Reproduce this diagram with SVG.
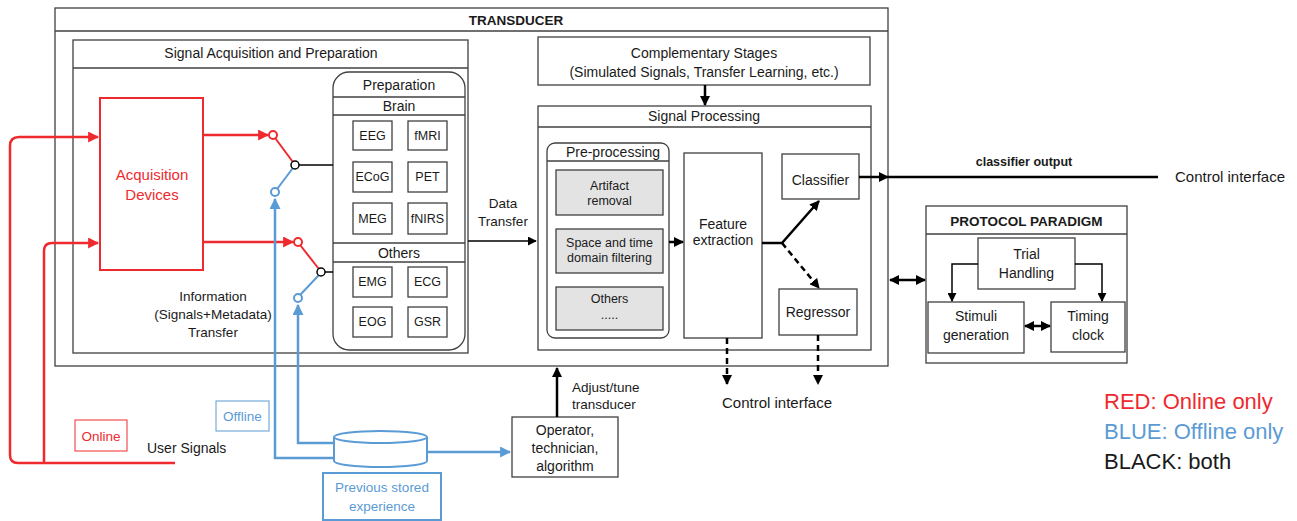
<svg xmlns="http://www.w3.org/2000/svg" width="1297" height="521" viewBox="0 0 1297 521">
<style>
text{font-family:"Liberation Sans",Arial,sans-serif;fill:#1a1a1a;}
.c{text-anchor:middle;}
.box{fill:#fff;stroke:#404040;stroke-width:1.3;}
.gbox{fill:#e3e3e3;stroke:#404040;stroke-width:1.3;}
.ln{stroke:#404040;stroke-width:1.3;fill:none;}
.blk{stroke:#000;stroke-width:2.5;fill:none;}
.thin{stroke:#000;stroke-width:1.5;fill:none;}
.dash{stroke:#000;stroke-width:2.5;fill:none;stroke-dasharray:6 4;}
.red{stroke:#ee2a2f;stroke-width:2.5;fill:none;}
.blue{stroke:#5b9bd5;stroke-width:2.5;fill:none;}
.t12{font-size:12.5px;}
.t13{font-size:13.5px;}
.t14{font-size:14px;}
.t15{font-size:15px;}
.b{font-weight:bold;}
.rt{fill:#ee2a2f;}
.bt{fill:#5b9bd5;}
</style>
<defs>
<marker id="ak" viewBox="0 0 10 10" refX="9" refY="5" markerWidth="4" markerHeight="4" orient="auto-start-reverse" markerUnits="strokeWidth"><path d="M0,0 L10,5 L0,10 z" fill="#000"/></marker>
<marker id="akt" viewBox="0 0 10 10" refX="9" refY="5" markerWidth="6" markerHeight="6" orient="auto-start-reverse" markerUnits="strokeWidth"><path d="M0,0 L10,5 L0,10 z" fill="#000"/></marker>
<marker id="ar" viewBox="0 0 10 10" refX="9" refY="5" markerWidth="4.4" markerHeight="4.4" orient="auto" markerUnits="strokeWidth"><path d="M0,0 L10,5 L0,10 z" fill="#ee2a2f"/></marker>
<marker id="ab" viewBox="0 0 10 10" refX="9" refY="5" markerWidth="4.4" markerHeight="4.4" orient="auto" markerUnits="strokeWidth"><path d="M0,0 L10,5 L0,10 z" fill="#5b9bd5"/></marker>
</defs>

<g id="transducer">
<rect class="box" x="55" y="8" width="833" height="358"/>
<line class="ln" x1="55" y1="31" x2="888" y2="31"/>
<text class="c t13 b" x="516" y="25">TRANSDUCER</text>
</g>

<g id="signal-acquisition">
<rect class="box" x="73" y="40" width="395" height="313"/>
<line class="ln" x1="73" y1="68" x2="468" y2="68"/>
<text class="c t14" x="271" y="58">Signal Acquisition and Preparation</text>
<text class="c t13" x="213" y="301">Information</text>
<text class="c t13" x="213" y="319">(Signals+Metadata)</text>
<text class="c t13" x="213" y="337">Transfer</text>
</g>

<g id="acquisition-devices">
<rect x="100" y="98" width="103" height="172" fill="#fff" stroke="#ee2a2f" stroke-width="2"/>
<text class="c t15 rt" x="152" y="180">Acquisition</text>
<text class="c t15 rt" x="152" y="200">Devices</text>
</g>

<g id="preparation">
<rect class="box" x="333" y="72" width="132" height="278" rx="16"/>
<line class="ln" x1="333" y1="97" x2="465" y2="97"/>
<line class="ln" x1="333" y1="115" x2="465" y2="115"/>
<line class="ln" x1="333" y1="243" x2="465" y2="243"/>
<line class="ln" x1="333" y1="262" x2="465" y2="262"/>
<text class="c t14" x="399" y="90">Preparation</text>
<text class="c t14" x="399" y="111">Brain</text>
<text class="c t14" x="399" y="258">Others</text>
<rect class="box" x="353" y="121" width="39" height="29"/><text class="c t12" x="372.5" y="140">EEG</text>
<rect class="box" x="408" y="121" width="39" height="29"/><text class="c t12" x="427.5" y="140">fMRI</text>
<rect class="box" x="353" y="162" width="39" height="30"/><text class="c t12" x="372.5" y="181">ECoG</text>
<rect class="box" x="408" y="162" width="39" height="30"/><text class="c t12" x="427.5" y="181">PET</text>
<rect class="box" x="353" y="203" width="39" height="31"/><text class="c t12" x="372.5" y="223">MEG</text>
<rect class="box" x="408" y="203" width="39" height="31"/><text class="c t12" x="427.5" y="223">fNIRS</text>
<rect class="box" x="353" y="267" width="39" height="30"/><text class="c t12" x="372.5" y="286">EMG</text>
<rect class="box" x="408" y="267" width="39" height="30"/><text class="c t12" x="427.5" y="286">ECG</text>
<rect class="box" x="353" y="307" width="39" height="30"/><text class="c t12" x="372.5" y="326">EOG</text>
<rect class="box" x="408" y="307" width="39" height="30"/><text class="c t12" x="427.5" y="326">GSR</text>
</g>

<g id="data-transfer-label">
<text class="c t13" x="503" y="208">Data</text>
<text class="c t13" x="503" y="226">Transfer</text>
</g>

<g id="complementary">
<rect class="box" x="538" y="37" width="332" height="48"/>
<text class="c t14" x="704" y="58">Complementary Stages</text>
<text class="c t14" x="704" y="77">(Simulated Signals, Transfer Learning, etc.)</text>
</g>

<g id="signal-processing">
<rect class="box" x="538" y="106" width="333" height="244"/>
<line class="ln" x1="538" y1="127" x2="871" y2="127"/>
<text class="c t14" x="704" y="121">Signal Processing</text>
</g>

<g id="pre-processing">
<rect class="box" x="547" y="143" width="122" height="195" rx="8"/>
<line class="ln" x1="547" y1="161" x2="669" y2="161"/>
<text class="c t14" x="613" y="157">Pre-processing</text>
<rect class="gbox" x="556" y="170" width="107" height="45"/>
<text class="c t12" x="609.5" y="190">Artifact</text>
<text class="c t12" x="609.5" y="205">removal</text>
<rect class="gbox" x="556" y="229" width="107" height="44"/>
<text class="c t12" x="609.5" y="247">Space and time</text>
<text class="c t12" x="609.5" y="262">domain filtering</text>
<rect class="gbox" x="556" y="287" width="107" height="43"/>
<text class="c t12" x="609.5" y="303">Others</text>
<text class="c t12" x="609.5" y="319">.....</text>
</g>

<g id="feature-extraction">
<rect class="box" x="684" y="153" width="78" height="185"/>
<text class="c t14" x="723" y="229">Feature</text>
<text class="c t14" x="723" y="245">extraction</text>
</g>

<g id="classifier">
<rect class="box" x="782" y="154" width="77" height="45"/>
<text class="c t14" x="820.5" y="185">Classifier</text>
</g>

<g id="regressor">
<rect class="box" x="779" y="289" width="78" height="46"/>
<text class="c t14" x="818" y="317">Regressor</text>
</g>

<g id="protocol-paradigm">
<rect class="box" x="926" y="206" width="201" height="157"/>
<line class="ln" x1="926" y1="234" x2="1127" y2="234"/>
<text class="c t13 b" x="1026.5" y="226">PROTOCOL PARADIGM</text>
</g>
<g id="trial-handling">
<rect class="box" x="978" y="238" width="97" height="51"/>
<text class="c t14" x="1026.5" y="259">Trial</text>
<text class="c t14" x="1026.5" y="278">Handling</text>
</g>
<g id="stimuli-generation">
<rect class="box" x="928" y="302" width="96" height="51"/>
<text class="c t14" x="976" y="321">Stimuli</text>
<text class="c t14" x="976" y="340">generation</text>
</g>
<g id="timing-clock">
<rect class="box" x="1051" y="302" width="74" height="50"/>
<text class="c t14" x="1088" y="321">Timing</text>
<text class="c t14" x="1088" y="340">clock</text>
</g>

<g id="operator">
<rect class="box" x="512" y="417" width="106" height="60"/>
<text class="c t14" x="565" y="435">Operator,</text>
<text class="c t14" x="565" y="453">technician,</text>
<text class="c t14" x="565" y="471">algorithm</text>
</g>

<g id="database">
<path d="M334,437 L334,461 A46.5,6 0 0 0 427,461 L427,437" fill="#fff" stroke="#5b9bd5" stroke-width="2"/>
<ellipse cx="380.5" cy="437" rx="46.5" ry="6" fill="#fff" stroke="#5b9bd5" stroke-width="2"/>
</g>
<g id="previous-stored">
<rect x="323" y="473" width="118" height="47" fill="#fff" stroke="#5b9bd5" stroke-width="2"/>
<text class="c t13 bt" x="382" y="492">Previous stored</text>
<text class="c t13 bt" x="382" y="511">experience</text>
</g>

<g id="labels">
<rect x="75" y="420" width="52" height="31" fill="none" stroke="#ee2a2f" stroke-width="1"/>
<text class="c t13 rt" x="101" y="441">Online</text>
<rect x="216" y="401" width="53" height="30" fill="none" stroke="#5b9bd5" stroke-width="1"/>
<text class="c t13 bt" x="242.5" y="421">Offline</text>
<text class="t14" x="147" y="453">User Signals</text>
<text class="t13" x="572" y="392">Adjust/tune</text>
<text class="t13" x="572" y="409">transducer</text>
<text class="t15" x="722" y="408">Control interface</text>
<text class="c t12 b" x="1024" y="166">classifier output</text>
<text class="t15" x="1175" y="182">Control interface</text>
</g>

<g id="legend">
<text x="1104" y="409" font-size="22" class="rt">RED: Online only</text>
<text x="1104" y="439" font-size="22" class="bt">BLUE: Offline only</text>
<text x="1104" y="469" font-size="22" fill="#1a1a1a">BLACK: both</text>
</g>

<g id="connectors">
<path class="red" d="M175,463 L18,463 Q10,463 10,455 L10,146 Q10,137 19,137 L98,137" marker-end="url(#ar)"/>
<path class="red" d="M44,463 L44,251 Q44,243 52,243 L98,243" marker-end="url(#ar)"/>
<path class="red" d="M203,135 L268,135" marker-end="url(#ar)"/>
<path class="red" d="M203,242 L293,242" marker-end="url(#ar)"/>
<line x1="275.5" y1="138.5" x2="292.5" y2="161.5" stroke="#ee2a2f" stroke-width="2"/>
<line x1="300.5" y1="245.5" x2="318.5" y2="268.5" stroke="#ee2a2f" stroke-width="2"/>
<circle cx="273" cy="135" r="4" fill="#fff" stroke="#ee2a2f" stroke-width="2"/>
<circle cx="298" cy="242" r="4" fill="#fff" stroke="#ee2a2f" stroke-width="2"/>
<line x1="277.5" y1="188.5" x2="292.5" y2="168.5" stroke="#5b9bd5" stroke-width="2"/>
<line x1="300.5" y1="294.5" x2="318.5" y2="275.5" stroke="#5b9bd5" stroke-width="2"/>
<path class="blue" d="M334,458 L275,458 L275,199" marker-end="url(#ab)"/>
<path class="blue" d="M334,443 L298,443 L298,305" marker-end="url(#ab)"/>
<path class="blue" d="M427,452 L510,452" marker-end="url(#ab)"/>
<circle cx="275" cy="192" r="4" fill="#fff" stroke="#5b9bd5" stroke-width="2"/>
<circle cx="298" cy="298" r="4" fill="#fff" stroke="#5b9bd5" stroke-width="2"/>
<line x1="299" y1="165" x2="333" y2="165" stroke="#000" stroke-width="1.5"/>
<line x1="325" y1="272" x2="333" y2="272" stroke="#000" stroke-width="1.5"/>
<circle cx="295" cy="165" r="4" fill="#fff" stroke="#000" stroke-width="1.5"/>
<circle cx="321" cy="272" r="4" fill="#fff" stroke="#000" stroke-width="1.5"/>
<path class="thin" d="M468,241 L536,241" marker-end="url(#akt)"/>
<path class="blk" d="M705,85 L705,105" marker-end="url(#ak)"/>
<path class="blk" d="M669,242 L683,242" marker-end="url(#ak)"/>
<path class="blk" d="M762,243 L782,243 L819,201" marker-end="url(#ak)"/>
<path class="dash" d="M782,243 L819,288" marker-end="url(#ak)"/>
<path class="dash" d="M727,338 L727,384" marker-end="url(#ak)"/>
<path class="dash" d="M818,335 L818,384" marker-end="url(#ak)"/>
<path class="blk" d="M859,177 L888,177" marker-end="url(#ak)"/>
<line class="blk" x1="888" y1="177" x2="1158" y2="177"/>
<path class="blk" d="M890,280 L925,280" marker-start="url(#ak)" marker-end="url(#ak)"/>
<path class="blk" d="M1025,326 L1050,326" marker-start="url(#ak)" marker-end="url(#ak)"/>
<path class="thin" d="M978,264 L952,264 L952,301" marker-end="url(#akt)"/>
<path class="thin" d="M1075,264 L1102,264 L1102,301" marker-end="url(#akt)"/>
<path class="blk" d="M557,417 L557,368" marker-end="url(#ak)"/>
</g>
</svg>
